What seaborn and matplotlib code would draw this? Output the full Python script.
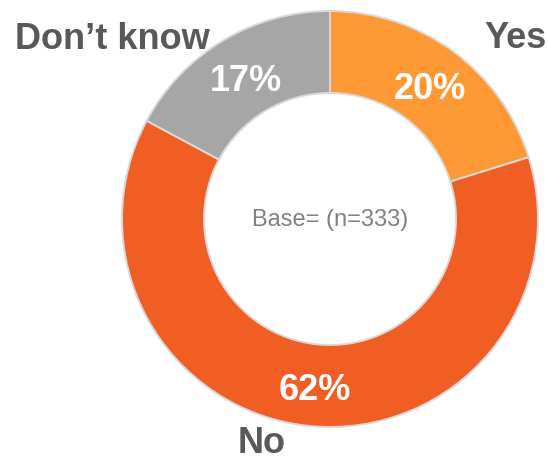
import matplotlib
matplotlib.use("Agg")
import matplotlib.pyplot as plt
import seaborn as sns

# Survey answers
categories = ["Yes", "No", "Don\u2019t know"]
shares = [20, 62, 17]
base_n = 333

colors = ["#FD9A35", "#F05E23", "#A6A6A6"]
label_color = "#595959"

sns.set_theme(style="white")
plt.rcParams["font.family"] = ["Liberation Sans", "DejaVu Sans"]

W, H = 548, 462
fig = plt.figure(figsize=(W / 100, H / 100), dpi=100)
ax = fig.add_axes([0, 0, 1, 1])


def py(y):
    """Convert a top-down pixel row into the axes' y coordinate."""
    return H - y


cx, cy = 330, 219
outer_r, inner_r = 208, 126

ax.pie(
    shares,
    colors=colors,
    startangle=90,
    counterclock=False,
    center=(cx, py(cy)),
    radius=outer_r,
    wedgeprops=dict(width=outer_r - inner_r, edgecolor="#D9D9D9", linewidth=1.4),
    frame=True,
)
ax.set_xlim(0, W)
ax.set_ylim(0, H)
ax.set_aspect("equal")
ax.axis("off")

# Percentage labels inside the ring
pct_pos = [(430, 99), (315, 400), (246, 91)]
for share, (x, y) in zip(shares, pct_pos):
    ax.text(x, py(y), f"{share}%", color="white", fontsize=26, fontweight="bold",
            ha="center", va="baseline")

# Category names outside the ring
name_pos = [(515, 48), (262, 453), (112, 49)]
for name, (x, y) in zip(categories, name_pos):
    ax.text(x, py(y), name, color=label_color, fontsize=26, fontweight="bold",
            ha="center", va="baseline")

ax.text(cx, py(226), f"Base= (n={base_n})", color="#808080", fontsize=17,
        ha="center", va="baseline")

fig.savefig("out.png", dpi=100, facecolor="white")
